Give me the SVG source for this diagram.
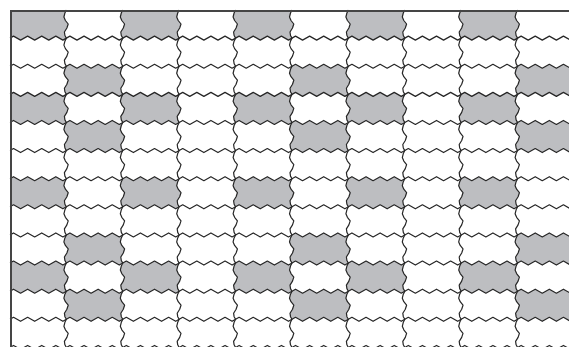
<svg xmlns="http://www.w3.org/2000/svg" xmlns:xlink="http://www.w3.org/1999/xlink" width="569" height="347" viewBox="0 0 569 347">
<style>
.paver{fill:#bdbec1;stroke:none}
.joint{fill:none;stroke:#262626;stroke-width:1.2;stroke-linejoin:round}
.border{fill:none;stroke:#454545;stroke-width:2}
</style>
<defs>
<path id="cell" d="M0 0 l3.525 -2 l7.05 4 l7.05 -4 l7.05 4 l7.05 -4 l7.05 4 l7.05 -4 l7.05 4 l3.525 -2 l-1.5 3 l-1 4 l1.5 3.5 l2.8 3.5 l-1.3 4 l-2.5 4 l0.5 3.5 l1.5 2.62 l-3.525 2 l-7.05 -4 l-7.05 4 l-7.05 -4 l-7.05 4 l-7.05 -4 l-7.05 4 l-7.05 -4 l-3.525 2 l-1.5 -2.62 l-0.5 -3.5 l2.5 -4 l1.3 -4 l-2.8 -3.5 l-1.5 -3.5 l1 -4 l1.5 -3 z"/>
<path id="cellTop" d="M0 0 h56.4 l-1.5 3 l-1 4 l1.5 3.5 l2.8 3.5 l-1.3 4 l-2.5 4 l0.5 3.5 l1.5 2.62 l-3.525 2 l-7.05 -4 l-7.05 4 l-7.05 -4 l-7.05 4 l-7.05 -4 l-7.05 4 l-7.05 -4 l-3.525 2 l-1.5 -2.62 l-0.5 -3.5 l2.5 -4 l1.3 -4 l-2.8 -3.5 l-1.5 -3.5 l1 -4 l1.5 -3 z"/>
<path id="cellLeft" d="M0 0 l3.525 -2 l7.05 4 l7.05 -4 l7.05 4 l7.05 -4 l7.05 4 l7.05 -4 l7.05 4 l3.525 -2 l-1.5 3 l-1 4 l1.5 3.5 l2.8 3.5 l-1.3 4 l-2.5 4 l0.5 3.5 l1.5 2.62 l-3.525 2 l-7.05 -4 l-7.05 4 l-7.05 -4 l-7.05 4 l-7.05 -4 l-7.05 4 l-7.05 -4 l-3.525 2 z"/>
<path id="cellTL" d="M0 0 h56.4 l-1.5 3 l-1 4 l1.5 3.5 l2.8 3.5 l-1.3 4 l-2.5 4 l0.5 3.5 l1.5 2.62 l-3.525 2 l-7.05 -4 l-7.05 4 l-7.05 -4 l-7.05 4 l-7.05 -4 l-7.05 4 l-7.05 -4 l-3.525 2 z"/>
<path id="hline" d="M10 0
 l3.525 -2 l7.05 4 l7.05 -4 l7.05 4 l7.05 -4 l7.05 4 l7.05 -4 l7.05 4 l3.525 -2
 l3.525 -2 l7.05 4 l7.05 -4 l7.05 4 l7.05 -4 l7.05 4 l7.05 -4 l7.05 4 l3.525 -2
 l3.525 -2 l7.05 4 l7.05 -4 l7.05 4 l7.05 -4 l7.05 4 l7.05 -4 l7.05 4 l3.525 -2
 l3.525 -2 l7.05 4 l7.05 -4 l7.05 4 l7.05 -4 l7.05 4 l7.05 -4 l7.05 4 l3.525 -2
 l3.525 -2 l7.05 4 l7.05 -4 l7.05 4 l7.05 -4 l7.05 4 l7.05 -4 l7.05 4 l3.525 -2
 l3.525 -2 l7.05 4 l7.05 -4 l7.05 4 l7.05 -4 l7.05 4 l7.05 -4 l7.05 4 l3.525 -2
 l3.525 -2 l7.05 4 l7.05 -4 l7.05 4 l7.05 -4 l7.05 4 l7.05 -4 l7.05 4 l3.525 -2
 l3.525 -2 l7.05 4 l7.05 -4 l7.05 4 l7.05 -4 l7.05 4 l7.05 -4 l7.05 4 l3.525 -2
 l3.525 -2 l7.05 4 l7.05 -4 l7.05 4 l7.05 -4 l7.05 4 l7.05 -4 l7.05 4 l3.525 -2
 l3.525 -2 l7.05 4 l7.05 -4 l7.05 4 l7.05 -4 l7.05 4 l7.05 -4 l7.05 4 l3.525 -2"/>
<path id="vline" d="M0 10
 l-1.5 3 l-1 4 l1.5 3.5 l2.8 3.5 l-1.3 4 l-2.5 4 l0.5 3.5 l1.5 2.62
 l-1.5 3 l-1 4 l1.5 3.5 l2.8 3.5 l-1.3 4 l-2.5 4 l0.5 3.5 l1.5 2.62
 l-1.5 3 l-1 4 l1.5 3.5 l2.8 3.5 l-1.3 4 l-2.5 4 l0.5 3.5 l1.5 2.62
 l-1.5 3 l-1 4 l1.5 3.5 l2.8 3.5 l-1.3 4 l-2.5 4 l0.5 3.5 l1.5 2.62
 l-1.5 3 l-1 4 l1.5 3.5 l2.8 3.5 l-1.3 4 l-2.5 4 l0.5 3.5 l1.5 2.62
 l-1.5 3 l-1 4 l1.5 3.5 l2.8 3.5 l-1.3 4 l-2.5 4 l0.5 3.5 l1.5 2.62
 l-1.5 3 l-1 4 l1.5 3.5 l2.8 3.5 l-1.3 4 l-2.5 4 l0.5 3.5 l1.5 2.62
 l-1.5 3 l-1 4 l1.5 3.5 l2.8 3.5 l-1.3 4 l-2.5 4 l0.5 3.5 l1.5 2.62
 l-1.5 3 l-1 4 l1.5 3.5 l2.8 3.5 l-1.3 4 l-2.5 4 l0.5 3.5 l1.5 2.62
 l-1.5 3 l-1 4 l1.5 3.5 l2.8 3.5 l-1.3 4 l-2.5 4 l0.5 3.5 l1.5 2.62
 l-1.5 3 l-1 4 l1.5 3.5 l2.8 3.5 l-1.3 4 l-2.5 4 l0.5 3.5 l1.5 2.62
 l-1.5 3 l-1 4 l1.5 3.5 l2.8 3.5 l-1.3 4 l-2.5 4 l0.5 3.5 l1.5 2.62"/>
</defs>
<rect x="0" y="0" width="569" height="347" fill="#ffffff"/>
<g id="shaded-pavers" class="paver">
<use xlink:href="#cellTL" href="#cellTL" x="10" y="10"/>
<use xlink:href="#cellTop" href="#cellTop" x="122.8" y="10"/>
<use xlink:href="#cellTop" href="#cellTop" x="235.6" y="10"/>
<use xlink:href="#cellTop" href="#cellTop" x="348.4" y="10"/>
<use xlink:href="#cellTop" href="#cellTop" x="461.2" y="10"/>

<use xlink:href="#cell" href="#cell" x="66.4" y="66.24"/>
<use xlink:href="#cell" href="#cell" x="292" y="66.24"/>
<use xlink:href="#cell" href="#cell" x="517.6" y="66.24"/>

<use xlink:href="#cellLeft" href="#cellLeft" x="10" y="94.36"/>
<use xlink:href="#cell" href="#cell" x="122.8" y="94.36"/>
<use xlink:href="#cell" href="#cell" x="235.6" y="94.36"/>
<use xlink:href="#cell" href="#cell" x="348.4" y="94.36"/>
<use xlink:href="#cell" href="#cell" x="461.2" y="94.36"/>

<use xlink:href="#cell" href="#cell" x="66.4" y="122.48"/>
<use xlink:href="#cell" href="#cell" x="292" y="122.48"/>
<use xlink:href="#cell" href="#cell" x="517.6" y="122.48"/>

<use xlink:href="#cellLeft" href="#cellLeft" x="10" y="178.72"/>
<use xlink:href="#cell" href="#cell" x="122.8" y="178.72"/>
<use xlink:href="#cell" href="#cell" x="235.6" y="178.72"/>
<use xlink:href="#cell" href="#cell" x="348.4" y="178.72"/>
<use xlink:href="#cell" href="#cell" x="461.2" y="178.72"/>

<use xlink:href="#cell" href="#cell" x="66.4" y="234.96"/>
<use xlink:href="#cell" href="#cell" x="292" y="234.96"/>
<use xlink:href="#cell" href="#cell" x="517.6" y="234.96"/>

<use xlink:href="#cellLeft" href="#cellLeft" x="10" y="263.08"/>
<use xlink:href="#cell" href="#cell" x="122.8" y="263.08"/>
<use xlink:href="#cell" href="#cell" x="235.6" y="263.08"/>
<use xlink:href="#cell" href="#cell" x="348.4" y="263.08"/>
<use xlink:href="#cell" href="#cell" x="461.2" y="263.08"/>

<use xlink:href="#cell" href="#cell" x="66.4" y="291.2"/>
<use xlink:href="#cell" href="#cell" x="292" y="291.2"/>
<use xlink:href="#cell" href="#cell" x="517.6" y="291.2"/>
</g>
<g id="joints" class="joint">
<use xlink:href="#hline" href="#hline" y="38.12"/>
<use xlink:href="#hline" href="#hline" y="66.24"/>
<use xlink:href="#hline" href="#hline" y="94.36"/>
<use xlink:href="#hline" href="#hline" y="122.48"/>
<use xlink:href="#hline" href="#hline" y="150.6"/>
<use xlink:href="#hline" href="#hline" y="178.72"/>
<use xlink:href="#hline" href="#hline" y="206.84"/>
<use xlink:href="#hline" href="#hline" y="234.96"/>
<use xlink:href="#hline" href="#hline" y="263.08"/>
<use xlink:href="#hline" href="#hline" y="291.2"/>
<use xlink:href="#hline" href="#hline" y="319.32"/>
<use xlink:href="#hline" href="#hline" y="347.44"/>
<use xlink:href="#vline" href="#vline" x="66.4"/>
<use xlink:href="#vline" href="#vline" x="122.8"/>
<use xlink:href="#vline" href="#vline" x="179.2"/>
<use xlink:href="#vline" href="#vline" x="235.6"/>
<use xlink:href="#vline" href="#vline" x="292"/>
<use xlink:href="#vline" href="#vline" x="348.4"/>
<use xlink:href="#vline" href="#vline" x="404.8"/>
<use xlink:href="#vline" href="#vline" x="461.2"/>
<use xlink:href="#vline" href="#vline" x="517.6"/>
</g>
<path id="border" class="border" d="M11 347 V11 H569"/>
</svg>
